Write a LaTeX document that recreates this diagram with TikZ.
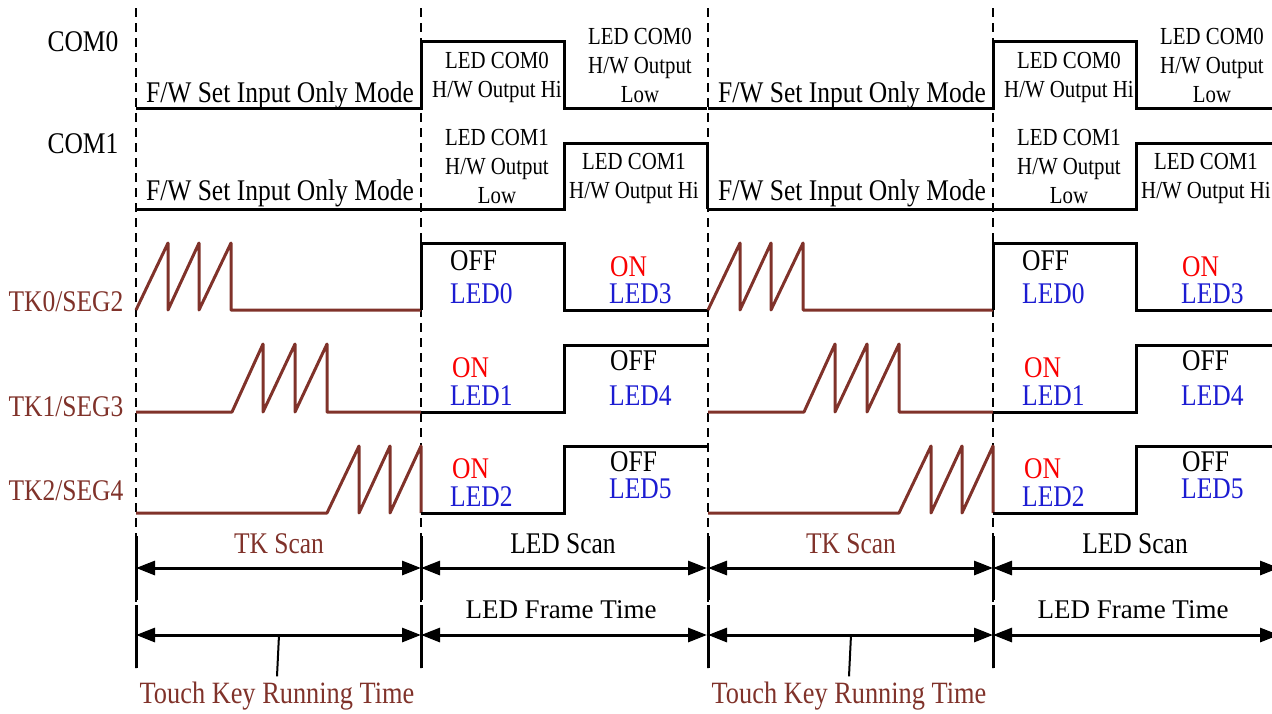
\documentclass[tikz,border=0pt]{standalone}
\usepackage{fontspec}
\usepackage{xcolor}
\usepackage{tikz}
\usetikzlibrary{arrows.meta, positioning}
\newfontfamily\condfont[FakeStretch=0.85]{Liberation Serif}
\newfontfamily\plainfont{Liberation Serif}
\definecolor{tkbrown}{RGB}{128,50,42}
\definecolor{ledblue}{RGB}{28,28,210}
\definecolor{onred}{RGB}{250,0,0}

\begin{document}
\begin{tikzpicture}[
  x=1pt, y=-1pt,
  wave/.style={line width=3pt, black},
  tkwave/.style={line width=3pt, tkbrown, line join=round},
  guide/.style={line width=1.5pt, dash pattern=on 9pt off 6pt},
  bar/.style={line width=3pt},
  spanarr/.style={{Triangle[length=19pt, width=14pt]}-{Triangle[length=19pt, width=14pt]}, line width=3pt},
  big/.style={font=\condfont\fontsize{30}{34}\selectfont, inner sep=0pt},
  note/.style={font=\condfont\fontsize{24.5}{29}\selectfont, align=center, inner sep=0pt},
  wide/.style={font=\plainfont\fontsize{27}{30}\selectfont, inner sep=0pt}
]
\useasboundingbox (0,0) rectangle (1272,713);
\clip (0,0) rectangle (1272,713);

% signal names
\node[big, anchor=base] (com0) at (83,51)  {COM0};
\node[big, anchor=base] (com1) at (83,153) {COM1};
\node[big, anchor=base, text=tkbrown] (tk0) at (66,311) {TK0/SEG2};
\node[big, anchor=base, text=tkbrown] (tk1) at (66,416) {TK1/SEG3};
\node[big, anchor=base, text=tkbrown] (tk2) at (66,500) {TK2/SEG4};

% one TK scan + LED scan period, drawn twice
\foreach \p/\dx in {a/0, b/572} {
\begin{scope}[xshift=\dx, name prefix=\p-]
\draw[guide] (136,8) -- (136,668);
\draw[guide] (421,8) -- (421,668);
\draw[bar] (136,536) -- (136,600) (136,605) -- (136,668);
\draw[bar] (421,536) -- (421,600) (421,605) -- (421,668);

% COM lines
\draw[wave] (136,108) -- (421,108) -- (421,41) -- (564,41) -- (564,108) -- (707,108);
\draw[wave] (136,209) -- (564,209) -- (564,143) -- (707,143) -- (707,209);
\node[big, anchor=base] (fw0) at (280,102) {F/W Set Input Only Mode};
\node[big, anchor=base] (fw1) at (280,200) {F/W Set Input Only Mode};
\node[note, anchor=base] (c0hi) at (497,97)  {LED COM0\\H/W Output Hi};
\node[note, anchor=base] (c0lo) at (640,102) {LED COM0\\H/W Output\\Low};
\node[note, anchor=base] (c1lo) at (497,203) {LED COM1\\H/W Output\\Low};
\node[note, anchor=base] (c1hi) at (634,198) {LED COM1\\H/W Output Hi};

% TK/SEG lines
\draw[tkwave] (136,310) -- (168,243) -- (168,310) -- (199,243) -- (199,310) -- (231,243) -- (231,310) -- (421,310);
\draw[wave] (421,310) -- (421,243) -- (564,243) -- (564,310) -- (707,310);
\draw[tkwave] (136,412) -- (232,412) -- (263,344) -- (263,412) -- (295,344) -- (295,412) -- (327,344) -- (327,412) -- (421,412);
\draw[wave] (421,412) -- (564,412) -- (564,345) -- (707,345);
\draw[tkwave] (136,513) -- (327,513) -- (359,446) -- (359,513) -- (390,446) -- (390,513) -- (421,446) -- (421,513);
\draw[wave] (421,513) -- (564,513) -- (564,446) -- (707,446);

\node[big, anchor=base west] (off0) at (450,270) {OFF};
\node[big, anchor=base west, text=ledblue] (led0) at (450,303) {LED0};
\node[big, anchor=base west, text=onred] (on3) at (610,276) {ON};
\node[big, anchor=base west, text=ledblue] (led3) at (609,303) {LED3};
\node[big, anchor=base west, text=onred] (on1) at (452,377) {ON};
\node[big, anchor=base west, text=ledblue] (led1) at (450,405) {LED1};
\node[big, anchor=base west] (off4) at (610,370) {OFF};
\node[big, anchor=base west, text=ledblue] (led4) at (609,405) {LED4};
\node[big, anchor=base west, text=onred] (on2) at (452,478) {ON};
\node[big, anchor=base west, text=ledblue] (led2) at (450,506) {LED2};
\node[big, anchor=base west] (off5) at (610,471) {OFF};
\node[big, anchor=base west, text=ledblue] (led5) at (609,498) {LED5};

% timing arrows
\coordinate (m0) at (136,568); \coordinate (m1) at (421,568); \coordinate (m2) at (707,568);
\coordinate (f0) at (136,635); \coordinate (f1) at (421,635); \coordinate (f2) at (707,635);
\coordinate (lead) at (279,635);
\draw[spanarr] (m0) -- (m1);
\draw[spanarr] (m1) -- (m2);
\draw[spanarr] (f0) -- (f1);
\draw[spanarr] (f1) -- (f2);
\node[big, anchor=base, text=tkbrown] (tkscan) at (279,553) {TK Scan};
\node[big, anchor=base] (ledscan) at (563,553) {LED Scan};
\node[wide, anchor=base] (frame) at (561,618) {LED Frame Time};
\node[big, anchor=base, text=tkbrown, font=\condfont\fontsize{31}{34}\selectfont] (run) at (277,703) {Touch Key Running Time};
\draw[line width=2pt] (lead) -- ([yshift=5pt]run.north);
\end{scope}
}
\end{tikzpicture}
\end{document}
